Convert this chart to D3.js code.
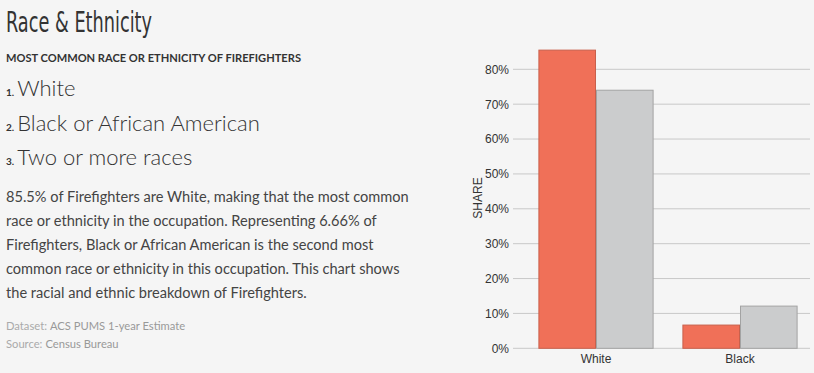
<!DOCTYPE html>
<html><head><meta charset="utf-8">
<script src="https://cdn.jsdelivr.net/npm/d3@7"></script>
<style>
html,body{margin:0;padding:0;background:#f5f5f5;}
svg{display:block;}
</style></head>
<body>
<svg id="c" width="814" height="373"></svg>
<script>
const categories = ["White", "Black"];
const occupationShare = [85.5, 6.66];
const overallShare = [74.0, 12.1];
const yTicks = [0, 10, 20, 30, 40, 50, 60, 70, 80];
const rankedList = ["White", "Black or African American", "Two or more races"];
const paragraphLines = [
  "85.5% of Firefighters are White, making that the most common",
  "race or ethnicity in the occupation. Representing 6.66% of",
  "Firefighters, Black or African American is the second most",
  "common race or ethnicity in this occupation. This chart shows",
  "the racial and ethnic breakdown of Firefighters."
];

const svg = d3.select("#c");
svg.append("rect").attr("width",814).attr("height",373).attr("fill","#f5f5f5");

// Left text
svg.append("text").attr("x",6).attr("y",32)
  .attr("font-family","'Liberation Sans Narrow','DejaVu Sans Condensed',sans-serif")
  .attr("font-size",29).attr("fill","#333").attr("textLength",146).attr("lengthAdjust","spacingAndGlyphs")
  .text("Race & Ethnicity");
svg.append("text").attr("x",6).attr("y",62)
  .attr("font-family","Lato,sans-serif").attr("font-weight","bold")
  .attr("font-size",11.1).attr("fill","#333")
  .text("MOST COMMON RACE OR ETHNICITY OF FIREFIGHTERS");

const listY = [96, 131, 165];
rankedList.forEach((d,i)=>{
  const t = svg.append("text").attr("x",6).attr("y",listY[i]).attr("fill","#333")
    .attr("font-family","Lato,sans-serif");
  t.append("tspan").attr("font-size",10).attr("font-weight","bold").text((i+1)+".");
  t.append("tspan").attr("dx",3).attr("font-size",22).attr("font-weight",300).text(d);
});

paragraphLines.forEach((d,i)=>{
  svg.append("text").attr("x",6).attr("y",202+i*24)
    .attr("font-family","Lato,sans-serif").attr("font-size",14.6).attr("fill","#444")
    .text(d);
});
const meta = [["Dataset:","ACS PUMS 1-year Estimate"],["Source:","Census Bureau"]];
meta.forEach((m,i)=>{
  const t = svg.append("text").attr("x",6).attr("y",330+i*18)
    .attr("font-family","Lato,sans-serif").attr("font-size",11.2);
  t.append("tspan").attr("fill","#aaa").text(m[0]);
  t.append("tspan").attr("fill","#999").attr("dx",3).text(m[1]);
});

// Chart
const y = d3.scaleLinear().domain([0,80]).range([348.3,69.3]);
const x = d3.scaleBand().domain(categories).range([524,812]).paddingInner(0.2).paddingOuter(0.1);
const x1 = d3.scaleBand().domain([0,1]).range([0,x.bandwidth()]);

const g = svg.append("g");
const yAxis = d3.axisLeft(y).tickValues(yTicks).tickFormat(d=>d+"%").tickSize(0).tickPadding(4);
const ya = g.append("g").attr("transform","translate(513,0)").call(yAxis);
ya.select(".domain").remove();
ya.selectAll("text").attr("font-family","Arial,'Liberation Sans',sans-serif").attr("font-size",12).attr("fill","#333");
g.append("g").selectAll("line").data(yTicks).join("line")
  .attr("x1",513).attr("x2",810).attr("y1",d=>y(d)).attr("y2",d=>y(d))
  .attr("stroke","#c8c8c8").attr("stroke-width",1);

g.append("text").attr("transform","translate(482,198) rotate(-90)")
  .attr("text-anchor","middle").attr("font-family","Arial,'Liberation Sans',sans-serif")
  .attr("font-size",12).attr("fill","#333").text("SHARE");

const series = [
  {vals: occupationShare, fill:"#f07058", stroke:"#c8604c"},
  {vals: overallShare, fill:"#cbcccd", stroke:"#a3a3a3"}
];
series.forEach((s,si)=>{
  g.append("g").selectAll("rect").data(categories).join("rect")
    .attr("x",(d)=>x(d)+x1(si)+0.5)
    .attr("y",(d,i)=>y(s.vals[i]))
    .attr("width",x1.bandwidth()-1)
    .attr("height",(d,i)=>y(0)-y(s.vals[i]))
    .attr("fill",s.fill).attr("stroke",s.stroke).attr("stroke-width",1);
});

const xAxis = d3.axisBottom(x).tickSize(0).tickPadding(6);
const xa = g.append("g").attr("transform","translate(0,"+y(0)+")").call(xAxis);
xa.select(".domain").remove();
xa.selectAll("text").attr("font-family","Arial,'Liberation Sans',sans-serif").attr("font-size",12).attr("fill","#333");
</script>
</body></html>
